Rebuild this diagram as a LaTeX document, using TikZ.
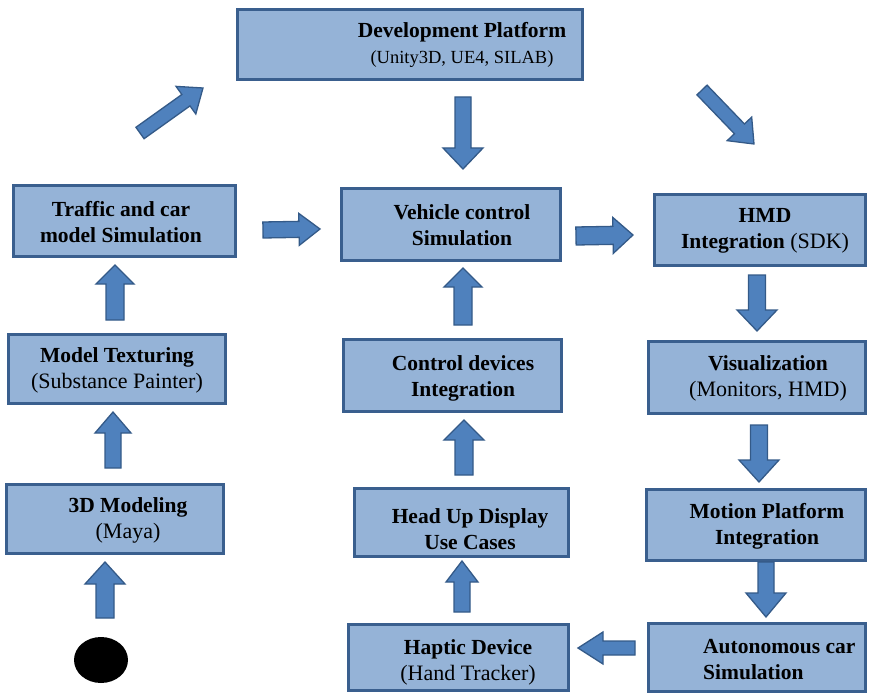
\documentclass[tikz,border=0pt]{standalone}
\usepackage{fontspec}
\setmainfont{Liberation Serif}
\usetikzlibrary{calc,shapes.geometric}

\definecolor{boxfill}{HTML}{95B3D7}
\definecolor{boxline}{HTML}{3A5F8E}
\definecolor{arrfill}{HTML}{4F81BD}
\definecolor{arrline}{HTML}{345A88}

\newcommand\titlefont{\fontsize{21.5}{26}\selectfont\bfseries}
\newcommand\subfont{\fontsize{22}{26}\selectfont\mdseries}
\newcommand\platformsub{\fontsize{18.5}{26}\selectfont\mdseries}

\tikzset{
  stage/.style={draw=boxline, line width=3pt, fill=boxfill, rectangle, inner sep=0pt},
  caption/.style={align=center, inner sep=0pt, font=\titlefont, text=black},
  blockarrow/.style={fill=arrfill, draw=arrline, line width=1.3pt, line join=miter},
}

% thick block arrow: tail, tip, shaft half-width, head half-width, head length
\newcommand\fatarrow[5]{%
  \coordinate (fa-h) at ($(#2)!#5!(#1)$);
  \draw[blockarrow] ($(#1)!#3!90:(#2)$) -- ($(fa-h)!#3!90:(#2)$)
    -- ($(fa-h)!#4!90:(#2)$) -- (#2) -- ($(fa-h)!#4!-90:(#2)$)
    -- ($(fa-h)!#3!-90:(#2)$) -- ($(#1)!#3!-90:(#2)$) -- cycle;}

\begin{document}
\begin{tikzpicture}[x=1pt,y=-1pt]
\useasboundingbox (0,0) rectangle (873,695);

% boxes
\node[stage, minimum width=345pt, minimum height=70pt] (dev) at (410,44.5) {};
\node[caption] (devtxt) at (462,45) {Development Platform\\ \platformsub (Unity3D, UE4, SILAB)};

\node[stage, minimum width=222pt, minimum height=71pt] (traffic) at (124.5,221) {};
\node[caption] (traffictxt) at (121,222) {Traffic and car\\ model Simulation};

\node[stage, minimum width=219pt, minimum height=72pt] (vehicle) at (451,224.5) {};
\node[caption] (vehicletxt) at (462,225) {Vehicle control\\ Simulation};

\node[stage, minimum width=211pt, minimum height=71pt] (hmd) at (760,230) {};
\node[caption] (hmdtxt) at (765,231) {HMD\\ Integration \subfont(SDK)};

\node[stage, minimum width=217pt, minimum height=69pt] (tex) at (117,369) {};
\node[caption] (textxt) at (117,370) {Model Texturing\\ \subfont(Substance Painter)};

\node[stage, minimum width=217pt, minimum height=69pt] (model) at (115,519) {};
\node[caption] (modeltxt) at (128,520) {3D Modeling\\ \subfont(Maya)};

\node[stage, minimum width=218pt, minimum height=72pt] (control) at (452.5,375.5) {};
\node[caption] (controltxt) at (463,378) {Control devices\\ Integration};

\node[stage, minimum width=214pt, minimum height=68pt] (hud) at (461.5,522.5) {};
\node[caption] (hudtxt) at (470,529) {Head Up Display\\ Use Cases};

\node[stage, minimum width=220pt, minimum height=66pt] (haptic) at (458.5,657.5) {};
\node[caption] (haptictxt) at (468,662) {Haptic Device\\ \subfont(Hand Tracker)};

\node[stage, minimum width=217pt, minimum height=72pt] (vis) at (757,377.5) {};
\node[caption] (vistxt) at (768,378) {Visualization\\ \subfont(Monitors, HMD)};

\node[stage, minimum width=219pt, minimum height=71pt] (motion) at (756,525) {};
\node[caption] (motiontxt) at (767,526) {Motion Platform\\ Integration};

\node[stage, minimum width=217pt, minimum height=68pt] (auto) at (757,657.5) {};
\node[caption, align=left, anchor=west] (autotxt) at (703,660) {Autonomous car\\ Simulation};

% start point
\node[ellipse, fill=black, minimum width=54pt, minimum height=46pt, inner sep=0pt] (start) at (101,660) {};

% arrow end points
\coordinate (a1s) at (463,97);   \coordinate (a1e) at (463,169);
\coordinate (a2s) at (140,133);  \coordinate (a2e) at (203,88);
\coordinate (a3s) at (702,90);   \coordinate (a3e) at (754,144);
\coordinate (a4s) at (263,230);  \coordinate (a4e) at (320,229);
\coordinate (a5s) at (576,236);  \coordinate (a5e) at (633,235);
\coordinate (a6s) at (463,325);  \coordinate (a6e) at (463,268);
\coordinate (a7s) at (464,475);  \coordinate (a7e) at (464,420);
\coordinate (a8s) at (462,612);  \coordinate (a8e) at (462,561);
\coordinate (a9s) at (115,320);  \coordinate (a9e) at (115,265);
\coordinate (a10s) at (113,468); \coordinate (a10e) at (113,412);
\coordinate (a11s) at (105,618); \coordinate (a11e) at (105,562);
\coordinate (a12s) at (757,275); \coordinate (a12e) at (757,331);
\coordinate (a13s) at (759,425); \coordinate (a13e) at (759,482);
\coordinate (a14s) at (766,562); \coordinate (a14e) at (766,617);
\coordinate (a15s) at (635,648); \coordinate (a15e) at (578,648);

\fatarrow{a1s}{a1e}{8pt}{20pt}{21pt}
\fatarrow{a2s}{a2e}{7pt}{17pt}{21pt}
\fatarrow{a3s}{a3e}{7pt}{17pt}{21pt}
\fatarrow{a4s}{a4e}{8pt}{16pt}{21pt}
\fatarrow{a5s}{a5e}{9pt}{18pt}{20pt}
\fatarrow{a6s}{a6e}{9pt}{19pt}{19pt}
\fatarrow{a7s}{a7e}{9pt}{20pt}{20pt}
\fatarrow{a8s}{a8e}{8pt}{16pt}{21pt}
\fatarrow{a9s}{a9e}{9pt}{19pt}{19pt}
\fatarrow{a10s}{a10e}{8pt}{18pt}{21pt}
\fatarrow{a11s}{a11e}{9pt}{20pt}{22pt}
\fatarrow{a12s}{a12e}{8.5pt}{20pt}{21pt}
\fatarrow{a13s}{a13e}{8.5pt}{20pt}{22pt}
\fatarrow{a14s}{a14e}{8pt}{20pt}{24pt}
\fatarrow{a15s}{a15e}{7pt}{16pt}{25pt}
\end{tikzpicture}
\end{document}
